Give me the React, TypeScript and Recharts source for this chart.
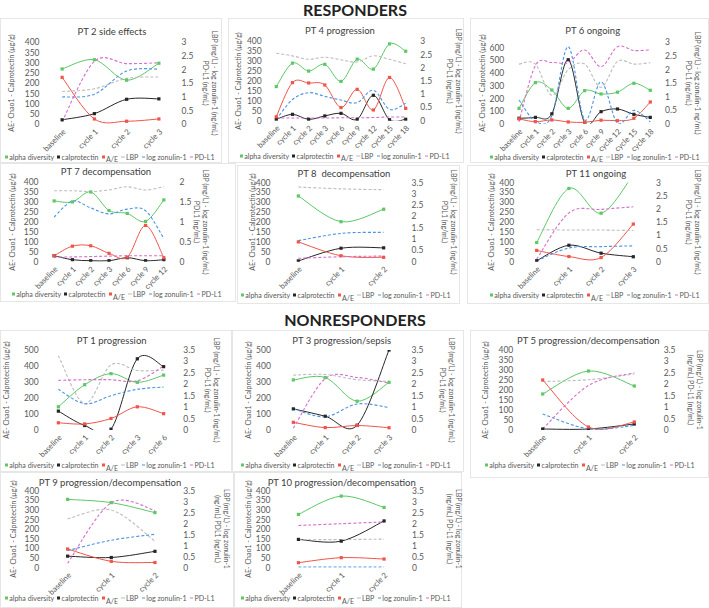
import { LineChart, Line, XAxis, YAxis } from 'recharts'

// categories
const cats3 = ['baseline', 'cycle 1', 'cycle 2']
const cats4 = ['baseline', 'cycle 1', 'cycle 2', 'cycle 3']
const cats5 = ['baseline', 'cycle 1', 'cycle 2', 'cycle 3', 'cycle 6']
const cats7 = ['baseline', 'cycle 1', 'cycle 2', 'cycle 3', 'cycle 6', 'cycle 9', 'cycle 12']
const cats9 = ['baseline', 'cycle 1', 'cycle 2', 'cycle 3', 'cycle 6', 'cycle 9', 'cycle 12', 'cycle 15', 'cycle 18']

// tick labels
const ticks400 = [0, 50, 100, 150, 200, 250, 300, 350, 400]
const ticks500 = [0, 100, 200, 300, 400, 500]
const ticks600 = [0, 100, 200, 300, 400, 500, 600]
const rTicks2 = [0, 0.5, 1, 1.5, 2]
const rTicks3 = [0, 0.5, 1, 1.5, 2, 2.5, 3]
const rTicks35 = [0, 0.5, 1, 1.5, 2, 2.5, 3, 3.5]

// PT 2
const pt2Alpha = [270, 315, 215, 298]
const pt2Calpro = [22, 52, 122, 124]
const pt2AE = [229, 26, 15, 26]
const pt2LBP = [1.2, 1.3, 1.68, 1.73]
const pt2Zonulin = [1.0, 1.1, 1.95, 2.02]
const pt2PDL1 = [0.1, 2.3, 2.22, 2.25]

// PT 4
const pt4Alpha = [172, 290, 250, 284, 198, 310, 260, 387, 350]
const pt4Calpro = [7, 32, 7, 24, 37, 7, 128, 5, 7]
const pt4AE = [20, 192, 190, 180, 66, 158, 54, 218, 62]
const pt4LBP = [2.55, 2.45, 2.32, 2.4, 2.3, 2.22, 2.45, 2.32, 2.15]
const pt4Zonulin = [0.05, 0.8, 1.06, 0.92, 0.78, 0.68, 1.15, 0.43, 0.66]
const pt4PDL1 = [0.1, 0.1, 0.1, 0.1, 0.11, 0.11, 0.12, 0.14, 0.14]

// PT 6
const pt6Alpha = [123, 325, 267, 123, 262, 236, 250, 320, 265]
const pt6Calpro = [45, 52, 80, 505, 10, 97, 118, 76, 52]
const pt6AE = [40, 18, 32, 16, 13, 30, 26, 45, 173]
const pt6LBP = [2.2, 2.2, 1.05, 2.0, 2.2, 1.35, 2.3, 2.2, 2.25]
const pt6Zonulin = [0.88, 0.1, 0.3, 2.84, 0.15, 1.55, 0.03, 0.5, 0.08]
const pt6PDL1 = [0.08, 2.15, 2.26, 2.25, 2.72, 2.1, 2.84, 2.7, 2.72]

// PT 7
const pt7Alpha = [305, 300, 350, 257, 242, 202, 310]
const pt7Calpro = [30, 10, 5, 5, 20, 5, 10]
const pt7AE = [30, 78, 80, 42, 23, 182, 20]
const pt7LBP = [1.78, 1.78, 1.76, 1.8, 1.88, 1.8, 1.88]
const pt7Zonulin = [1.12, 1.52, 1.35, 1.2, 1.32, 1.28, 0.58]
const pt7PDL1 = [0.12, 0.12, 0.13, 0.14, 0.15, 0.15, 0.15]

// PT 8
const pt8Alpha = [332, 202, 265]
const pt8Calpro = [4, 68, 70]
const pt8AE = [100, 30, 22]
const pt8LBP = [3.3, 3.22, 3.18]
const pt8Zonulin = [0.93, 1.25, 1.3]
const pt8PDL1 = [0.15, 0.22, 0.25]

// PT 11
const pt11Alpha = [97, 370, 245, 440]
const pt11Calpro = [5, 83, 43, 25]
const pt11AE = [57, 26, 21, 190]
const pt11LBP = [1.21, 1.2, 1.2, 1.18]
const pt11Zonulin = [0.03, 0.52, 0.57, 0.6]
const pt11PDL1 = [0.1, 1.85, 1.98, 2.08]

// PT 1
const pt1Alpha = [145, 283, 352, 298, 343]
const pt1Calpro = [118, 28, 5, 445, 396]
const pt1AE = [45, 38, 72, 145, 102]
const pt1LBP = [3.25, 1.15, 2.85, 2.6, 2.62]
const pt1Zonulin = [1.78, 1.15, 1.5, 1.78, 1.88]
const pt1PDL1 = [2.17, 2.2, 2.2, 2.15, 2.8]

// PT 3
const pt3Alpha = [313, 328, 180, 298]
const pt3Calpro = [132, 86, 30, 500]
const pt3AE = [48, 15, 28, 14]
const pt3LBP = [2.4, 2.43, 2.2, 2.13]
const pt3Zonulin = [0.93, 0.58, 1.14, 0.98]
const pt3PDL1 = [0.08, 2.25, 2.3, 2.05]

// PT 5
const pt5Alpha = [180, 295, 220]
const pt5Calpro = [5, 5, 30]
const pt5AE = [250, 15, 40]
const pt5LBP = [2.12, 2.2, 2.45]
const pt5Zonulin = [0.7, 0.05, 0.2]
const pt5PDL1 = [0.05, 1.95, 2.5]

// PT 9
const pt9Alpha = [355, 338, 286]
const pt9Calpro = [60, 53, 85]
const pt9AE = [97, 33, 27]
const pt9LBP = [2.22, 2.62, 1.2]
const pt9Zonulin = [0.78, 1.25, 1.52]
const pt9PDL1 = [0.2, 2.95, 2.6]

// PT 10
const pt10Alpha = [277, 372, 313]
const pt10Calpro = [147, 138, 243]
const pt10AE = [26, 52, 45]
const pt10LBP = [1.27, 1.28, 1.3]
const pt10Zonulin = [0.03, 0.03, 0.03]
const pt10PDL1 = [1.92, 2.0, 2.08]

const GREEN = '#5cc867'
const BLACK = '#262626'
const RED = '#f0544a'
const GRAY = '#bcbcbc'
const BLUE = '#4a94e0'
const PINK = '#d66fcb'
const TXT = '#595959'
const FONT = 'Lato, "Open Sans", sans-serif'

const LEFT_LABEL = 'AE- Chao1 - Calprotectin (µg/g)'
const RL_A = ['LBP (mg/L) - log zonulin-1 (ng/mL)', 'PD-L1 (ng/mL)']
const RL_A2 = ['LBP (mg/L) - log zonulin-1 (ng/mL)', 'PDL1 (ng/mL)']
const RL_B = ['LBP (mg/L) - log zonulin-1', '(ng/mL) PD-L1 (ng/mL)']

// Excel-like smoothed line (catmull-rom as bezier)
const excelSmooth = (context: any) => {
  let pts: number[][] = []
  return {
    areaStart() {},
    areaEnd() {},
    lineStart() {
      pts = []
    },
    point(x: number, y: number) {
      pts.push([+x, +y])
    },
    lineEnd() {
      const n = pts.length
      if (!n) return
      context.moveTo(pts[0][0], pts[0][1])
      for (let i = 0; i < n - 1; i++) {
        const p0 = pts[i - 1] || pts[i]
        const p1 = pts[i]
        const p2 = pts[i + 1]
        const p3 = pts[i + 2] || p2
        context.bezierCurveTo(
          p1[0] + (p2[0] - p0[0]) / 6,
          p1[1] + (p2[1] - p0[1]) / 6,
          p2[0] - (p3[0] - p1[0]) / 6,
          p2[1] - (p3[1] - p1[1]) / 6,
          p2[0],
          p2[1]
        )
      }
    },
  }
}

const Sq = (props: any) => {
  const { cx, cy, c } = props
  if (cx == null || cy == null) return null
  return <rect x={cx - 1.6} y={cy - 1.6} width={3.2} height={3.2} fill={c} />
}

const CatTick = (props: any) => {
  const { x, y, payload } = props
  const ax = x + 4
  const ay = y + 8
  return (
    <text x={ax} y={ay} transform={`rotate(-45 ${ax} ${ay})`} textAnchor="end" fontSize={7.8} fill={TXT}>
      {payload.value}
    </text>
  )
}

interface PanelCfg {
  title: string
  box: number[]
  plot: number[]
  titleX: number
  titleY: number
  leftLabelX: number
  rightLabelX: number
  rightLines: string[]
  legendX: number
  legendY: number
  cats: string[]
  alpha: number[]
  cal: number[]
  ae: number[]
  lbp: number[]
  zon: number[]
  pdl1: number[]
  leftTicks: number[]
  leftMax: number
  rightTicks: number[]
  rightMax: number
}

const panels: PanelCfg[] = [
  {
    title: 'PT 2 side effects', box: [0, 18, 222, 145], plot: [46, 42.3, 175, 124.3],
    titleX: 112, titleY: 30.7, leftLabelX: 11, rightLabelX: 210, rightLines: RL_A, legendX: 5, legendY: 156.7,
    cats: cats4, alpha: pt2Alpha, cal: pt2Calpro, ae: pt2AE, lbp: pt2LBP, zon: pt2Zonulin, pdl1: pt2PDL1,
    leftTicks: ticks400, leftMax: 400, rightTicks: rTicks3, rightMax: 3,
  },
  {
    title: 'PT 4 progression', box: [228, 18, 236, 145], plot: [268.2, 41.3, 413.8, 120.7],
    titleX: 340, titleY: 30, leftLabelX: 238, rightLabelX: 453.5, rightLines: RL_A, legendX: 240, legendY: 155.7,
    cats: cats9, alpha: pt4Alpha, cal: pt4Calpro, ae: pt4AE, lbp: pt4LBP, zon: pt4Zonulin, pdl1: pt4PDL1,
    leftTicks: ticks400, leftMax: 400, rightTicks: rTicks3, rightMax: 3,
  },
  {
    title: 'PT 6 ongoing', box: [470, 18, 239, 145], plot: [510.8, 42.3, 658.5, 124],
    titleX: 592.7, titleY: 30, leftLabelX: 481.7, rightLabelX: 692.5,
    rightLines: ['LBP (mg/L) - log zonulin-1 ng/mL)', 'PD-L1 (ng/mL)'], legendX: 490, legendY: 156.7,
    cats: cats9, alpha: pt6Alpha, cal: pt6Calpro, ae: pt6AE, lbp: pt6LBP, zon: pt6Zonulin, pdl1: pt6PDL1,
    leftTicks: ticks600, leftMax: 642, rightTicks: rTicks3, rightMax: 3,
  },
  {
    title: 'PT 7 decompensation', box: [0, 163, 236, 139], plot: [45, 182, 173, 261.7],
    titleX: 106, titleY: 171, leftLabelX: 12, rightLabelX: 201, rightLines: RL_A2, legendX: 12, legendY: 294,
    cats: cats7, alpha: pt7Alpha, cal: pt7Calpro, ae: pt7AE, lbp: pt7LBP, zon: pt7Zonulin, pdl1: pt7PDL1,
    leftTicks: ticks400, leftMax: 400, rightTicks: rTicks2, rightMax: 2,
  },
  {
    title: 'PT 8  decompensation', box: [237, 165, 223, 139], plot: [277, 182.5, 405, 261.7],
    titleX: 344, titleY: 173, leftLabelX: 252, rightLabelX: 449, rightLines: RL_A2, legendX: 241, legendY: 295,
    cats: cats3, alpha: pt8Alpha, cal: pt8Calpro, ae: pt8AE, lbp: pt8LBP, zon: pt8Zonulin, pdl1: pt8PDL1,
    leftTicks: ticks400, leftMax: 400, rightTicks: rTicks35, rightMax: 3.5,
  },
  {
    title: 'PT 11 ongoing', box: [467, 165, 242, 139], plot: [520.6, 182.5, 649.4, 261.7],
    titleX: 596, titleY: 173, leftLabelX: 490.7, rightLabelX: 693, rightLines: RL_A, legendX: 490, legendY: 295,
    cats: cats4, alpha: pt11Alpha, cal: pt11Calpro, ae: pt11AE, lbp: pt11LBP, zon: pt11Zonulin, pdl1: pt11PDL1,
    leftTicks: ticks400, leftMax: 400, rightTicks: rTicks3, rightMax: 3,
  },
  {
    title: 'PT 1 progression', box: [0, 330, 232, 142], plot: [45.2, 350, 176.8, 430],
    titleX: 111.7, titleY: 340, leftLabelX: 6, rightLabelX: 212, rightLines: RL_A, legendX: 5, legendY: 465,
    cats: cats5, alpha: pt1Alpha, cal: pt1Calpro, ae: pt1AE, lbp: pt1LBP, zon: pt1Zonulin, pdl1: pt1PDL1,
    leftTicks: ticks500, leftMax: 500, rightTicks: rTicks35, rightMax: 3.5,
  },
  {
    title: 'PT 3 progression/sepsis', box: [232, 330, 232, 142], plot: [277.4, 350, 405, 430],
    titleX: 341.7, titleY: 340, leftLabelX: 248.3, rightLabelX: 447, rightLines: RL_A, legendX: 241, legendY: 465,
    cats: cats4, alpha: pt3Alpha, cal: pt3Calpro, ae: pt3AE, lbp: pt3LBP, zon: pt3Zonulin, pdl1: pt3PDL1,
    leftTicks: ticks500, leftMax: 500, rightTicks: rTicks35, rightMax: 3.5,
  },
  {
    title: 'PT 5 progression/decompensation', box: [470, 330, 239, 148], plot: [519.8, 350, 657.2, 430],
    titleX: 588.3, titleY: 340, leftLabelX: 485, rightLabelX: 695, rightLines: RL_B, legendX: 485, legendY: 465,
    cats: cats3, alpha: pt5Alpha, cal: pt5Calpro, ae: pt5AE, lbp: pt5LBP, zon: pt5Zonulin, pdl1: pt5PDL1,
    leftTicks: ticks400, leftMax: 400, rightTicks: rTicks35, rightMax: 3.5,
  },
  {
    title: 'PT 9 progression/decompensation', box: [0, 472, 234, 136], plot: [45.8, 490.7, 176.8, 567.7],
    titleX: 110, titleY: 481.7, leftLabelX: 13.3, rightLabelX: 222,
    rightLines: ['LBP (mg/L) - log zonulin-1', '(ng/mL) PDL1 (ng/mL)'], legendX: 5, legendY: 598,
    cats: cats3, alpha: pt9Alpha, cal: pt9Calpro, ae: pt9AE, lbp: pt9LBP, zon: pt9Zonulin, pdl1: pt9PDL1,
    leftTicks: ticks400, leftMax: 400, rightTicks: rTicks35, rightMax: 3.5,
  },
  {
    title: 'PT 10 progression/decompensation', box: [234, 472, 228, 136], plot: [277, 490.7, 405.5, 567.7],
    titleX: 341.7, titleY: 481.7, leftLabelX: 248, rightLabelX: 453.5, rightLines: RL_B, legendX: 241, legendY: 598.3,
    cats: cats3, alpha: pt10Alpha, cal: pt10Calpro, ae: pt10AE, lbp: pt10LBP, zon: pt10Zonulin, pdl1: pt10PDL1,
    leftTicks: ticks400, leftMax: 400, rightTicks: rTicks35, rightMax: 3.5,
  },
]

const legendItems = [
  { label: 'alpha diversity', color: GREEN, dash: false },
  { label: 'calprotectin', color: BLACK, dash: false },
  { label: 'A/E', color: RED, dash: false },
  { label: 'LBP', color: GRAY, dash: true },
  { label: 'log zonulin-1', color: BLUE, dash: true },
  { label: 'PD-L1', color: PINK, dash: true },
]

function Panel({ c }: { c: PanelCfg }) {
  const [bx, by, bw, bh] = c.box
  const [pl, pt, pr, pb] = c.plot
  const data = c.cats.map((cat, i) => ({
    cat,
    alpha: c.alpha[i],
    cal: c.cal[i],
    ae: c.ae[i],
    lbp: c.lbp[i],
    zon: c.zon[i],
    pdl1: c.pdl1[i],
  }))
  const step = (pr - pl) / c.cats.length
  const midY = (pt + pb) / 2 - by

  return (
    <div style={{ position: 'absolute', left: bx, top: by, width: bw, height: bh }}>
      <div
        style={{
          position: 'absolute', left: 0, top: 0, width: bw, height: bh,
          border: '1px solid #e6e6e6', boxSizing: 'border-box',
        }}
      />
      <LineChart width={bw} height={bh} data={data} margin={{ top: pt - by, right: 0, bottom: 0, left: 0 }}>
        <XAxis
          dataKey="cat"
          height={by + bh - pb}
          padding={{ left: step / 2, right: step / 2 }}
          axisLine={false}
          tickLine={false}
          tickSize={0}
          tickMargin={0}
          interval={0}
          tick={<CatTick />}
        />
        <YAxis
          yAxisId="l"
          width={pl - bx}
          domain={[0, c.leftMax]}
          ticks={c.leftTicks}
          allowDataOverflow
          axisLine={false}
          tickLine={false}
          tickSize={0}
          tickMargin={6.5}
          interval={0}
          tick={{ fontSize: 8.5, fill: TXT }}
        />
        <YAxis
          yAxisId="r"
          orientation="right"
          width={bx + bw - pr}
          domain={[0, c.rightMax]}
          ticks={c.rightTicks}
          allowDataOverflow
          axisLine={false}
          tickLine={false}
          tickSize={0}
          tickMargin={6.5}
          interval={0}
          tick={{ fontSize: 8.5, fill: TXT }}
        />
        <Line yAxisId="l" dataKey="alpha" type={excelSmooth as any} stroke={GREEN} strokeWidth={1}
          dot={<Sq c={GREEN} />} activeDot={false} isAnimationActive={false} />
        <Line yAxisId="l" dataKey="cal" type={excelSmooth as any} stroke={BLACK} strokeWidth={1}
          dot={<Sq c={BLACK} />} activeDot={false} isAnimationActive={false} />
        <Line yAxisId="l" dataKey="ae" type={excelSmooth as any} stroke={RED} strokeWidth={1}
          dot={<Sq c={RED} />} activeDot={false} isAnimationActive={false} />
        <Line yAxisId="r" dataKey="lbp" type={excelSmooth as any} stroke={GRAY} strokeWidth={1.1}
          strokeDasharray="3 2" dot={false} activeDot={false} isAnimationActive={false} />
        <Line yAxisId="r" dataKey="zon" type={excelSmooth as any} stroke={BLUE} strokeWidth={1.1}
          strokeDasharray="3 2" dot={false} activeDot={false} isAnimationActive={false} />
        <Line yAxisId="r" dataKey="pdl1" type={excelSmooth as any} stroke={PINK} strokeWidth={1.1}
          strokeDasharray="3 2" dot={false} activeDot={false} isAnimationActive={false} />
      </LineChart>

      <div
        style={{
          position: 'absolute', left: c.titleX - bx, top: c.titleY - by, transform: 'translate(-50%, -50%)',
          fontSize: 9.5, color: '#404040', whiteSpace: 'pre',
        }}
      >
        {c.title}
      </div>

      <div
        style={{
          position: 'absolute', left: c.leftLabelX - bx, top: midY, transform: 'translate(-50%, -50%) rotate(-90deg)',
          fontSize: 7, color: TXT, whiteSpace: 'nowrap',
        }}
      >
        {LEFT_LABEL}
      </div>

      <div
        style={{
          position: 'absolute', left: c.rightLabelX - bx, top: midY, transform: 'translate(-50%, -50%) rotate(90deg)',
          fontSize: 7, lineHeight: '8.5px', color: TXT, whiteSpace: 'nowrap', textAlign: 'center',
        }}
      >
        {c.rightLines.map((l) => (
          <div key={l}>{l}</div>
        ))}
      </div>

      <div
        style={{
          position: 'absolute', left: c.legendX - bx, top: c.legendY - by, transform: 'translateY(-50%)',
          display: 'flex', alignItems: 'center', fontSize: 7.1, color: TXT, whiteSpace: 'nowrap',
        }}
      >
        {legendItems.map((it) => (
          <span key={it.label} style={{ display: 'inline-flex', alignItems: 'center', marginRight: 3.2 }}>
            <span
              style={{
                display: 'inline-block', width: it.dash ? 3.5 : 3, height: it.dash ? 1 : 3,
                background: it.color, marginRight: 1.2,
              }}
            />
            <span style={{ position: 'relative', top: it.label === 'A/E' ? 2.5 : 0 }}>{it.label}</span>
          </span>
        ))}
      </div>
    </div>
  )
}

export default function App() {
  return (
    <div
      style={{
        position: 'absolute', left: 0, top: 0, width: 709, height: 608, background: '#fff',
        overflow: 'hidden', fontFamily: FONT,
      }}
    >
      <div
        style={{
          position: 'absolute', left: 355, top: 9, transform: 'translate(-50%, -50%)',
          fontSize: 16, fontWeight: 700, color: '#222', whiteSpace: 'nowrap',
        }}
      >
        RESPONDERS
      </div>
      <div
        style={{
          position: 'absolute', left: 355, top: 319, transform: 'translate(-50%, -50%)',
          fontSize: 16, fontWeight: 700, color: '#222', whiteSpace: 'nowrap',
        }}
      >
        NONRESPONDERS
      </div>
      {panels.map((p) => (
        <Panel key={p.title} c={p} />
      ))}
    </div>
  )
}
